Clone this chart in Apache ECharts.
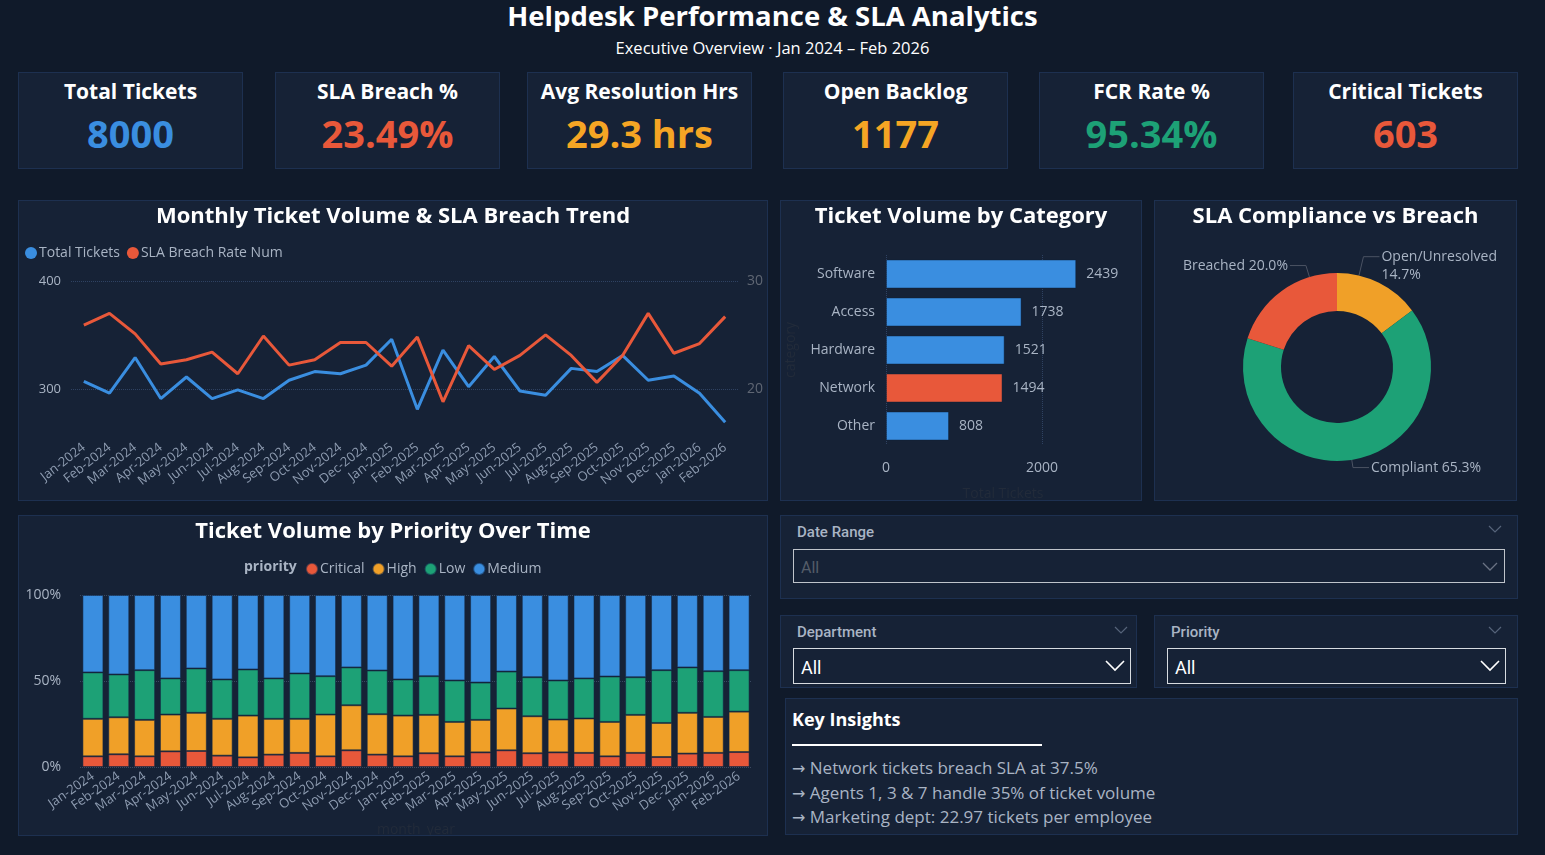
<!DOCTYPE html>
<html>
<head>
<meta charset="utf-8">
<title>Helpdesk Performance &amp; SLA Analytics</title>
<script src="https://cdn.jsdelivr.net/npm/echarts@6.0.0/dist/echarts.min.js"></script>
<style>
  html, body { margin: 0; padding: 0; }
  body {
    width: 1545px; height: 855px; position: relative; overflow: hidden;
    background: #101a2a; color: #fff; font-family: 'Open Sans', sans-serif;
  }
  .panel {
    position: absolute; box-sizing: border-box;
    background: #162236; border: 1px solid #1d3050;
  }
  .chart { position: absolute; left: 0; top: 0; width: 100%; height: 100%; }
  .head { position: absolute; left: 0; width: 1545px; text-align: center; }
  .kpi-title {
    position: absolute; left: 0; right: 0; top: 4px; text-align: center;
    font-size: 21px; font-weight: 700; line-height: 28px;
  }
  .kpi-value {
    position: absolute; left: 0; right: 0; top: 34px; text-align: center;
    font-size: 38px; font-weight: 700; line-height: 52px;
  }
  .slicer-title {
    position: absolute; left: 16px; top: 7px; font-family: Roboto, sans-serif;
    font-size: 15px; font-weight: 500; color: #a9b4c4;
  }
  .slicer-box {
    position: absolute; box-sizing: border-box; border: 1px solid #d7dbe0;
    font-family: Roboto, sans-serif;
  }
  .slicer-box span { position: absolute; left: 7px; }
  .chev { position: absolute; }
  .insight { position: absolute; left: 6px; font-size: 17px; color: #a9b4c4; white-space: nowrap; }
  .insight b { font-family: 'DejaVu Sans', sans-serif; font-weight: normal; font-size: 16px; }
</style>
</head>
<body>
<div class="head" style="top:-3px;font-size:27.5px;font-weight:700;">Helpdesk Performance &amp; SLA Analytics</div>
<div class="head" style="top:36px;font-size:16.5px;">Executive Overview · Jan 2024 – Feb 2026</div>

<div id="kpis"></div>

<div class="panel" style="left:18px;top:200px;width:750px;height:301px;"><div id="trend" class="chart"></div></div>
<div class="panel" style="left:780px;top:200px;width:362px;height:301px;"><div id="category" class="chart"></div></div>
<div class="panel" style="left:1154px;top:200px;width:363px;height:301px;"><div id="donut" class="chart"></div></div>
<div class="panel" style="left:18px;top:515px;width:750px;height:321px;"><div id="priority" class="chart"></div></div>

<div class="panel" style="left:780px;top:515px;width:738px;height:84px;">
  <div class="slicer-title">Date Range</div>
  <svg class="chev" style="left:707px;top:9px" width="14" height="8"><polyline points="1,1 7,7 13,1" fill="none" stroke="#56647a" stroke-width="1.2"/></svg>
  <div class="slicer-box" style="left:12px;top:33px;width:712px;height:34px;border-color:#bfc4ca;">
    <span style="top:8px;font-size:16px;color:#545c68;">All</span>
    <svg class="chev" style="left:688px;top:12px" width="16" height="9"><polyline points="1,1 8,8 15,1" fill="none" stroke="#6a7384" stroke-width="1.3"/></svg>
  </div>
</div>
<div class="panel" style="left:780px;top:615px;width:357px;height:73px;">
  <div class="slicer-title">Department</div>
  <svg class="chev" style="left:333px;top:10px" width="14" height="8"><polyline points="1,1 7,7 13,1" fill="none" stroke="#56647a" stroke-width="1.2"/></svg>
  <div class="slicer-box" style="left:12px;top:32px;width:338px;height:36px;">
    <span style="top:8px;font-size:18px;color:#ffffff;">All</span>
    <svg class="chev" style="left:311px;top:11px" width="20" height="12"><polyline points="1,1 10,10 19,1" fill="none" stroke="#ffffff" stroke-width="1.6"/></svg>
  </div>
</div>
<div class="panel" style="left:1154px;top:615px;width:364px;height:73px;">
  <div class="slicer-title">Priority</div>
  <svg class="chev" style="left:333px;top:10px" width="14" height="8"><polyline points="1,1 7,7 13,1" fill="none" stroke="#56647a" stroke-width="1.2"/></svg>
  <div class="slicer-box" style="left:12px;top:32px;width:339px;height:36px;">
    <span style="top:8px;font-size:18px;color:#ffffff;">All</span>
    <svg class="chev" style="left:312px;top:11px" width="20" height="12"><polyline points="1,1 10,10 19,1" fill="none" stroke="#ffffff" stroke-width="1.6"/></svg>
  </div>
</div>

<div class="panel" style="left:785px;top:698px;width:733px;height:137px;">
  <div style="position:absolute;left:6px;top:8px;font-size:18px;font-weight:700;">Key Insights</div>
  <div style="position:absolute;left:6px;top:45px;width:250px;height:2px;background:#fff;"></div>
  <div id="insights"></div>
</div>

<script>
const fontFamily = "'Open Sans', sans-serif"

const kpiLabels = ['Total Tickets', 'SLA Breach %', 'Avg Resolution Hrs', 'Open Backlog', 'FCR Rate %', 'Critical Tickets']
const kpiValues = ['8000', '23.49%', '29.3 hrs', '1177', '95.34%', '603']
const kpiColors = ['#3a8ee0', '#e8583a', '#f5a524', '#f5a524', '#1da176', '#e8583a']
const kpiLefts = [18, 275, 527, 783, 1039, 1293]

const months = ['Jan-2024', 'Feb-2024', 'Mar-2024', 'Apr-2024', 'May-2024', 'Jun-2024', 'Jul-2024',
  'Aug-2024', 'Sep-2024', 'Oct-2024', 'Nov-2024', 'Dec-2024', 'Jan-2025', 'Feb-2025', 'Mar-2025',
  'Apr-2025', 'May-2025', 'Jun-2025', 'Jul-2025', 'Aug-2025', 'Sep-2025', 'Oct-2025', 'Nov-2025',
  'Dec-2025', 'Jan-2026', 'Feb-2026']
const totalTickets = [307, 296, 329, 291, 311, 291, 299, 291, 308, 316, 314, 322, 346,
  281, 336, 302, 330, 298, 294, 319, 316, 331, 308, 312, 296, 269]
const breachRate = [25.9, 27.0, 25.1, 22.3, 22.7, 23.4, 21.4, 24.9, 22.2, 22.7, 24.3, 24.3, 22.1,
  24.8, 18.8, 24.0, 21.8, 23.1, 25.0, 23.1, 20.6, 23.1, 27.0, 23.3, 24.2, 26.7]

const categories = ['Software', 'Access', 'Hardware', 'Network', 'Other']
const categoryTotals = [2439, 1738, 1521, 1494, 808]
const highlightCategory = 'Network'

const slaStatus = ['Open/Unresolved', 'Compliant', 'Breached']
const slaCounts = [1177, 5220, 1603]

// share of each month's tickets, in %
const criticalShare = [6.2, 7.4, 6.2, 9.1, 9.3, 6.6, 5.6, 7.2, 8.2, 6.2, 9.7, 7.2, 6.2,
  8.0, 6.2, 8.5, 9.7, 8.0, 8.5, 8.2, 6.2, 8.2, 5.8, 7.8, 8.2, 8.7]
const highShare = [21.8, 21.5, 21.2, 21.4, 22.2, 21.4, 24.3, 20.8, 19.8, 24.3, 26.2, 23.5, 23.7,
  22.3, 20.0, 18.9, 24.3, 21.5, 19.1, 20.0, 20.0, 22.1, 19.8, 23.7, 20.9, 23.5]
const lowShare = [27.0, 24.9, 28.9, 21.0, 25.8, 22.9, 26.8, 23.5, 26.4, 22.3, 22.0, 25.4, 21.0,
  22.5, 24.1, 21.7, 21.5, 22.7, 22.7, 23.3, 26.4, 21.9, 30.7, 26.4, 26.6, 24.1]
const mediumShare = [45.0, 46.2, 43.7, 48.5, 42.7, 49.1, 43.3, 48.5, 45.6, 47.2, 42.1, 43.9, 49.1,
  47.2, 49.7, 50.9, 44.5, 47.8, 49.7, 48.5, 47.4, 47.8, 43.7, 42.1, 44.3, 43.7]

const insights = [
  'Network tickets breach SLA at 37.5%',
  'Agents 1, 3 & 7 handle 35% of ticket volume',
  'Marketing dept: 22.97 tickets per employee',
]

const BLUE = '#3a8ee0'
const RED = '#e8583a'
const ORANGE = '#f0a028'
const GREEN = '#1da176'
const MUTED = '#a9b4c4'
const FAINT = '#222b3a'

// KPI cards + insights (plain html)
document.getElementById('kpis').innerHTML = kpiLabels.map((label, i) => `
  <div class="panel" style="left:${kpiLefts[i]}px;top:72px;width:225px;height:97px;">
    <div class="kpi-title">${label}</div>
    <div class="kpi-value" style="color:${kpiColors[i]}">${kpiValues[i]}</div>
  </div>`).join('')
document.getElementById('insights').innerHTML = insights
  .map((t, i) => `<div class="insight" style="top:${57 + i * 24.5}px"><b>→</b> ${t}</div>`).join('')

function panelTitle(text) {
  return {
    text, left: 'center', top: 5, padding: 0,
    textStyle: { color: '#fff', fontSize: 22, fontWeight: 'bold', fontFamily },
  }
}

const trend = echarts.init(document.getElementById('trend'))
trend.setOption({
  textStyle: { fontFamily },
  title: panelTitle('Monthly Ticket Volume & SLA Breach Trend'),
  legend: {
    left: 6, top: 45, padding: 0, icon: 'circle', itemWidth: 12, itemHeight: 12, itemGap: 7,
    textStyle: { color: MUTED, fontSize: 14, padding: [0, 0, 0, -3] },
  },
  grid: { left: 52, right: 29, top: 80, bottom: 68, outerBoundsMode: 'none' },
  xAxis: {
    type: 'category', data: months,
    axisLine: { show: false }, axisTick: { show: false },
    axisLabel: { rotate: 38, interval: 0, color: '#8d9bb0', fontSize: 13, margin: 14 },
  },
  yAxis: [
    {
      type: 'value', min: 260, max: 400,
      axisLabel: { customValues: [300, 400], color: MUTED, fontSize: 13, margin: 10 },
      axisTick: { show: false, customValues: [300, 400] },
      splitLine: { lineStyle: { type: 'dotted', color: '#2f4262' } },
    },
    {
      type: 'value', min: 16, max: 30, position: 'right',
      axisLabel: { customValues: [20, 30], color: '#5f6673', fontSize: 14, margin: 9 },
      axisTick: { show: false, customValues: [20, 30] },
      splitLine: { show: false },
    },
  ],
  series: [
    {
      name: 'Total Tickets', type: 'line', data: totalTickets, symbol: 'none',
      lineStyle: { width: 3, color: BLUE }, itemStyle: { color: BLUE },
    },
    {
      name: 'SLA Breach Rate Num', type: 'line', yAxisIndex: 1, data: breachRate, symbol: 'none',
      lineStyle: { width: 3, color: RED }, itemStyle: { color: RED },
    },
  ],
})

const category = echarts.init(document.getElementById('category'))
category.setOption({
  textStyle: { fontFamily },
  title: panelTitle('Ticket Volume by Category'),
  grid: { left: 105, right: 21, top: 54, bottom: 55, outerBoundsMode: 'none' },
  xAxis: {
    type: 'value', min: 0, max: 3000,
    axisLabel: { customValues: [0, 2000], formatter: (v) => String(v), color: MUTED, fontSize: 14, margin: 16 },
    axisTick: { show: false, customValues: [0, 2000] },
    splitLine: { lineStyle: { type: 'dotted', color: '#2f4262' } },
    name: 'Total Tickets', nameLocation: 'middle', nameGap: 42,
    nameTextStyle: { color: FAINT, fontSize: 14 },
  },
  yAxis: {
    type: 'category', data: categories, inverse: true,
    axisLine: { show: false }, axisTick: { show: false },
    axisLabel: { color: MUTED, fontSize: 14, margin: 11 },
    name: 'category', nameLocation: 'middle', nameGap: 88, nameRotate: 90,
    nameTextStyle: { color: FAINT, fontSize: 14 },
  },
  series: [{
    type: 'bar', barWidth: 29,
    data: categoryTotals.map((v, i) => ({
      value: v,
      itemStyle: { color: categories[i] === highlightCategory ? RED : BLUE },
    })),
    itemStyle: { borderColor: 'rgba(10,30,60,0.45)', borderWidth: 1 },
    label: { show: true, position: 'right', distance: 10, color: MUTED, fontSize: 14 },
  }],
})

const donut = echarts.init(document.getElementById('donut'))
const sliceColors = [ORANGE, GREEN, RED]
const PIE_CENTER = [182, 166]
const PIE_RADIUS = [56, 94]
// move labels toward the Power BI placement
const labelShift = {
  'Open/Unresolved': [-22, -10],
  Compliant: [-4, 0],
  Breached: [32, -19],
}

// leader line: label -> short horizontal elbow -> straight in to the ring
function leaderLine(rect, dx, dy) {
  const onLeft = rect.x + dx + rect.width / 2 < PIE_CENTER[0]
  const y = rect.y + dy + 9
  const startX = onLeft ? rect.x + dx + rect.width + 2 : rect.x + dx - 2
  const elbowX = onLeft ? startX + 16 : startX - 16
  const vx = elbowX - PIE_CENTER[0]
  const vy = y - PIE_CENTER[1]
  const k = PIE_RADIUS[1] / Math.hypot(vx, vy)
  return [[PIE_CENTER[0] + vx * k, PIE_CENTER[1] + vy * k], [elbowX, y], [startX, y]]
}

donut.setOption({
  textStyle: { fontFamily },
  title: panelTitle('SLA Compliance vs Breach'),
  series: [{
    type: 'pie', center: PIE_CENTER, radius: PIE_RADIUS, startAngle: 90, clockwise: true,
    percentPrecision: 1,
    data: slaStatus.map((name, i) => ({ name, value: slaCounts[i], itemStyle: { color: sliceColors[i] } })),
    label: {
      color: MUTED, fontSize: 14, lineHeight: 18, overflow: 'none',
      formatter: (p) => p.name.length > 12
        ? `${p.name}\n${p.percent.toFixed(1)}%`
        : `${p.name} ${p.percent.toFixed(1)}%`,
    },
    labelLine: { length: 8, length2: 16, lineStyle: { color: '#4b5363' } },
    labelLayout: (params) => {
      const [dx, dy] = labelShift[slaStatus[params.dataIndex]] || [0, 0]
      return { dx, dy, labelLinePoints: leaderLine(params.labelRect, dx, dy) }
    },
  }],
})

const priority = echarts.init(document.getElementById('priority'))
const prioritySeries = [
  ['Critical', criticalShare, RED],
  ['High', highShare, ORANGE],
  ['Low', lowShare, GREEN],
  ['Medium', mediumShare, BLUE],
]
priority.setOption({
  textStyle: { fontFamily },
  title: panelTitle('Ticket Volume by Priority Over Time'),
  legend: {
    left: 286, top: 46, padding: 0, icon: 'circle', itemWidth: 12, itemHeight: 12, itemGap: 7,
    textStyle: { color: MUTED, fontSize: 14, padding: [0, 0, 0, -3] },
  },
  graphic: [{
    type: 'text', left: 225, top: 44,
    style: { text: 'priority', fill: MUTED, font: `bold 14px ${fontFamily}` },
  }],
  grid: { left: 61, right: 15, top: 79, bottom: 68, outerBoundsMode: 'none' },
  xAxis: {
    type: 'category', data: months,
    axisLine: { show: false }, axisTick: { show: false },
    axisLabel: { rotate: 35, interval: 0, color: '#8d9bb0', fontSize: 13, margin: 8 },
    name: 'month_year', nameLocation: 'middle', nameGap: 56,
    nameTextStyle: { color: FAINT, fontSize: 14 },
  },
  yAxis: {
    type: 'value', min: 0, max: 100, interval: 50,
    axisLabel: { formatter: '{value}%', color: MUTED, fontSize: 14, margin: 19 },
    splitLine: { lineStyle: { type: 'dotted', color: '#3a4a62' } },
  },
  series: prioritySeries.map(([name, data, color]) => ({
    name, type: 'bar', stack: 'priority', data, barWidth: 21,
    itemStyle: { color, borderColor: 'rgba(20,40,70,0.55)', borderWidth: 1 },
  })),
})

window.addEventListener('resize', () => {
  [trend, category, donut, priority].forEach((c) => c.resize())
})
</script>
</body>
</html>
